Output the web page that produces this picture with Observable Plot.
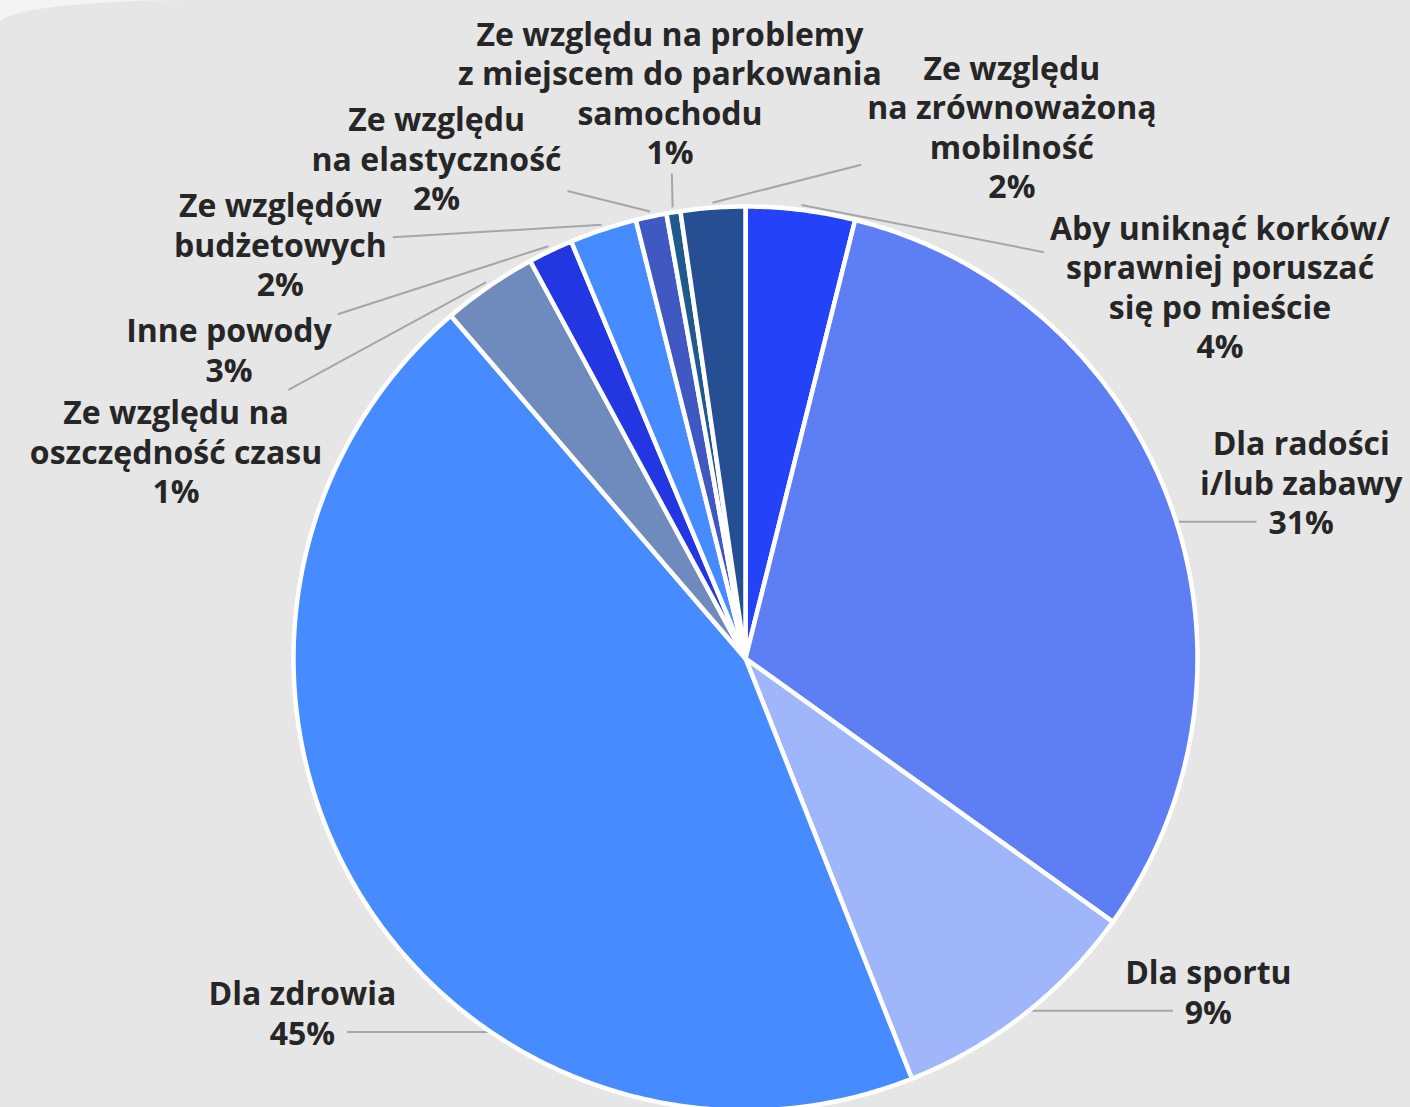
<!DOCTYPE html>
<html>
<head>
<meta charset="utf-8">
<script src="https://cdn.jsdelivr.net/npm/d3@7"></script>
<script src="https://cdn.jsdelivr.net/npm/@observablehq/plot@0.6"></script>
<style>
  html, body { margin: 0; padding: 0; background: #F4F4F4; }
  #card { position: absolute; left: 0; top: 0; width: 1410px; height: 1107px; background: #E6E6E6;
          border-top-left-radius: 190px 23px; overflow: hidden; }
  #card svg { display: block; }
</style>
</head>
<body>
<div id="card"></div>
<script>
// ---- data (clockwise from 12 o'clock) ----
const categories = [
  "Aby uniknąć korków/\nsprawniej poruszać\nsię po mieście",
  "Dla radości\ni/lub zabawy",
  "Dla sportu",
  "Dla zdrowia",
  "Ze względu na\noszczędność czasu",
  "Inne powody",
  "Ze względów\nbudżetowych",
  "Ze względu\nna elastyczność",
  "Ze względu na problemy\nz miejscem do parkowania\nsamochodu",
  "Ze względu\nna zrównoważoną\nmobilność"
];
const values = [3.9, 31.0, 9.1, 44.7, 3.4, 1.6, 2.4, 1.1, 0.5, 2.3];
const pctLabels = ["4%", "31%", "9%", "45%", "1%", "3%", "2%", "2%", "1%", "2%"];

// ---- styles / layout ----
const palette = ["#2442F8", "#5E7EF3", "#9FB7FA", "#468BFF", "#6F8ABD",
                 "#2236E2", "#468BFF", "#3F58C2", "#1E5A8C", "#264F93"];
// label placement (polar, degrees clockwise from top, distance from pie centre)
const labelAngle = [51.9, 72.4, 125.7, 231.4, 290.0, 300.9, 311.7, 328.3, 352.4, 26.6];
const labelDist  = [603, 583, 570, 567, 606, 602, 623, 588, 571, 595];

const W = 1410, H = 1107, CX = 745, CY = 658, R = 452;
const FS = 32, LH = 39.5, FONT = "Open Sans";

const rad = d => d * Math.PI / 180;
const polar = (a, r) => [r * Math.sin(a), -r * Math.cos(a)];

const arcs = d3.pie().sort(null).value(d => d)(values);

// slice polygons
const slicePts = [];
arcs.forEach((a, i) => {
  const key = categories[i];
  slicePts.push({key, x: 0, y: 0});
  const n = Math.max(2, Math.ceil((a.endAngle - a.startAngle) / rad(0.5)));
  for (let k = 0; k <= n; k++) {
    const t = a.startAngle + (a.endAngle - a.startAngle) * k / n;
    const [x, y] = polar(t, R);
    slicePts.push({key, x, y});
  }
  slicePts.push({key, x: 0, y: 0});
});

// text measurement
const ctx = document.createElement("canvas").getContext("2d");
ctx.font = `700 ${FS}px "${FONT}"`;
const tw = s => ctx.measureText(s).width;

const labels = [], leaders = [];
arcs.forEach((a, i) => {
  const text = categories[i] + "\n" + pctLabels[i];
  const lines = text.split("\n");
  const [lx, ly] = polar(rad(labelAngle[i]), labelDist[i]);
  labels.push({x: lx, y: ly, text});
  const maxW = d3.max(lines, tw);
  const halfW = maxW / 2 + 6, halfH = lines.length * LH / 2 + 2;
  const lastY = ly + (lines.length - 1) / 2 * LH;
  const side = Math.sign(lx);
  let seg = null;
  if (Math.abs(lastY) < R) {
    const xt = side * Math.sqrt(R * R - lastY * lastY);
    let ang = Math.atan2(xt, -lastY);
    if (ang < 0) ang += 2 * Math.PI;
    if (ang >= a.startAngle && ang <= a.endAngle) {
      const x1 = lx - side * (tw(lines[lines.length - 1]) / 2 + 12);
      seg = {x1, y1: lastY, x2: xt, y2: lastY};
    }
  }
  if (!seg) {
    const mid = (a.startAngle + a.endAngle) / 2;
    const [tx, ty] = polar(mid, R + 5);
    const dx = tx - lx, dy = ty - ly;
    const t = Math.min(Math.abs(halfW / dx) || Infinity, Math.abs(halfH / dy) || Infinity);
    seg = {x1: lx + dx * t, y1: ly + dy * t, x2: tx, y2: ty};
  }
  leaders.push(seg);
});

const chart = Plot.plot({
  width: W, height: H, margin: 0,
  x: {domain: [-CX, W - CX], range: [0, W], axis: null},
  y: {domain: [-CY, H - CY], range: [0, H], axis: null},
  color: {domain: categories, range: palette},
  style: {background: "transparent", fontFamily: FONT},
  marks: [
    Plot.link(leaders, {x1: "x1", y1: "y1", x2: "x2", y2: "y2", stroke: "#A6A6A6", strokeWidth: 2}),
    Plot.line(slicePts, {x: "x", y: "y", z: "key", fill: "key", stroke: "white",
                         strokeWidth: 4.5, strokeLinejoin: "round"}),
    Plot.text(labels, {x: "x", y: "y", text: "text", fontSize: FS, fontWeight: 700,
                       fill: "#262626", lineHeight: LH / FS})
  ]
});
document.getElementById("card").appendChild(chart);
</script>
</body>
</html>
